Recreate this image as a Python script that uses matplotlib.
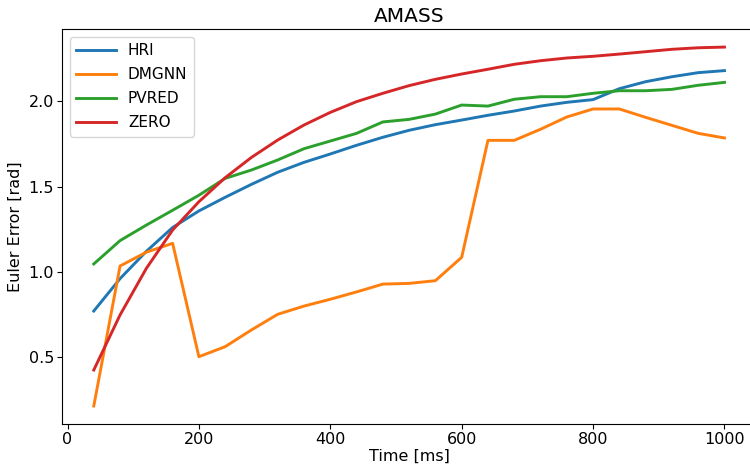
import numpy as np
import matplotlib
matplotlib.use('Agg')
import matplotlib.pyplot as plt

times = np.arange(40, 1001, 40)

hri = [0.77, 0.96, 1.12, 1.26, 1.357, 1.437, 1.513, 1.584, 1.642, 1.691, 1.742, 1.789, 1.830,
       1.863, 1.890, 1.918, 1.943, 1.972, 1.994, 2.010, 2.074, 2.115, 2.144, 2.168, 2.180]
dmgnn = [0.213, 1.034, 1.115, 1.167, 0.502, 0.561, 0.659, 0.751, 0.799, 0.839, 0.882, 0.928, 0.932,
         0.948, 1.085, 1.771, 1.771, 1.836, 1.908, 1.955, 1.955, 1.906, 1.859, 1.812, 1.785]
pvred = [1.046, 1.183, 1.274, 1.361, 1.449, 1.548, 1.597, 1.656, 1.722, 1.767, 1.812, 1.879, 1.894,
         1.925, 1.978, 1.972, 2.012, 2.027, 2.027, 2.047, 2.062, 2.062, 2.070, 2.094, 2.111]
zero = [0.424, 0.747, 1.020, 1.245, 1.411, 1.552, 1.671, 1.773, 1.861, 1.935, 1.998, 2.047, 2.092,
        2.129, 2.160, 2.188, 2.217, 2.238, 2.254, 2.264, 2.277, 2.291, 2.305, 2.314, 2.318]

plt.rcParams['font.family'] = ['DejaVu Sans']
fig = plt.figure(figsize=(7.5, 4.7), dpi=100)
ax = fig.add_axes([0.083, 0.098, 0.925, 0.840])

ax.plot(times, hri, label='HRI', linewidth=2.1)
ax.plot(times, dmgnn, label='DMGNN', linewidth=2.1)
ax.plot(times, pvred, label='PVRED', linewidth=2.1)
ax.plot(times, zero, label='ZERO', linewidth=2.1)

ax.set_title('AMASS', fontsize=14.5, pad=5)
ax.set_xlabel('Time [ms]', fontsize=11.5, labelpad=1)
ax.set_ylabel('Euler Error [rad]', fontsize=11.5, labelpad=4)
ax.set_xticks([0, 200, 400, 600, 800, 1000])
ax.set_yticks([0.5, 1.0, 1.5, 2.0])
ax.tick_params(labelsize=11.5, pad=2.5)
ax.legend(loc='upper left', fontsize=11, handlelength=2.6, labelspacing=0.6,
          borderaxespad=0.5)

fig.savefig('out.png', dpi=100)
